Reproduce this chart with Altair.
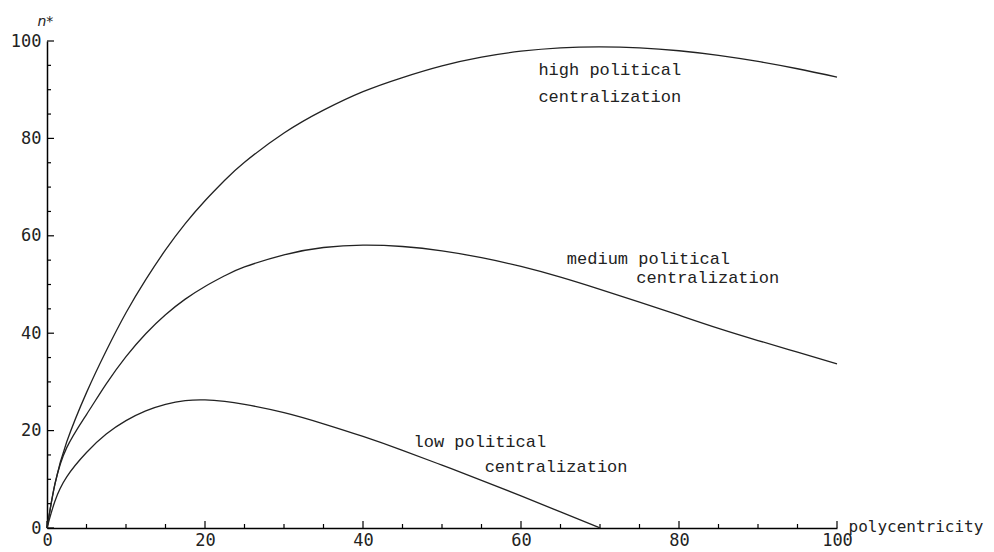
import altair as alt
import pandas as pd

# ---- data ----
x_vals = [0, 1, 2.5, 5, 7.5, 10, 12.5, 15, 17.5, 20, 22.5, 25, 30, 35, 40, 45, 50,
          55, 60, 65, 70, 75, 80, 85, 90, 95, 100]
high = [0, 9.0, 17.7, 27.8, 36.4, 44.2, 51.0, 57.1, 62.5, 67.2, 71.4, 75.1, 81.1, 85.8,
        89.6, 92.5, 94.9, 96.7, 97.9, 98.6, 98.8, 98.6, 98.0, 97.05, 95.8, 94.3, 92.6]
medium = [0, 9.0, 16.5, 23.3, 29.6, 35.2, 39.9, 43.8, 47.0, 49.6, 51.8, 53.6, 56.1, 57.6,
          58.1, 57.8, 56.9, 55.5, 53.7, 51.5, 49.0, 46.4, 43.7, 41.0, 38.5, 36.1, 33.7]
low_x = [0, 1, 2.5, 5, 7.5, 10, 12.5, 15, 17.5, 20, 22.5, 25, 30, 35, 40, 45, 50, 55, 60, 65, 70]
low = [0, 5.5, 10.5, 15.5, 19.3, 22.05, 24.05, 25.4, 26.15, 26.3, 26.0, 25.4, 23.7, 21.4,
       18.8, 15.95, 12.9, 9.8, 6.6, 3.3, 0]

label_text = ["high political", "centralization", "medium political", "centralization",
              "low political", "centralization"]
label_x = [62.2, 62.2, 65.8, 74.6, 46.4, 55.4]
label_y = [93.0, 87.5, 54.2, 50.4, 16.7, 11.6]

major_ticks = [0, 20, 40, 60, 80, 100]
minor_ticks = [5, 10, 15, 25, 30, 35, 45, 50, 55, 65, 70, 75, 85, 90, 95]

W, H = 790, 487
MONO = "DejaVu Sans Mono"
INK = "#222222"

rows = []
for xv, yv in zip(x_vals, high):
    rows.append({"x": xv, "y": yv, "series": "high"})
for xv, yv in zip(x_vals, medium):
    rows.append({"x": xv, "y": yv, "series": "medium"})
for xv, yv in zip(low_x, low):
    rows.append({"x": xv, "y": yv, "series": "low"})
curves = pd.DataFrame(rows)

labels = pd.DataFrame({"x": label_x, "y": label_y, "text": label_text})
majors = pd.DataFrame({"v": major_ticks})
minors = pd.DataFrame({"v": minor_ticks})

xscale = alt.Scale(domain=[0, 100], nice=False, zero=False)
yscale = alt.Scale(domain=[0, 100], nice=False, zero=False)

x_axis = alt.Axis(values=major_ticks, ticks=False, grid=False, domainColor="black",
                  domainWidth=1.5, labelFont=MONO, labelFontSize=17, labelColor=INK,
                  labelPadding=4, labelFlush=False, labelOverlap=False,
                  title="polycentricity", titleX=801, titleY=3.7, titleAlign="left",
                  titleBaseline="alphabetic", titleFont=MONO, titleFontSize=16,
                  titleFontWeight="normal", titleColor=INK)
y_axis = alt.Axis(values=major_ticks, ticks=False, grid=False, domainColor="black",
                  domainWidth=1.5, labelFont=MONO, labelFontSize=17, labelColor=INK,
                  labelPadding=6, labelFlush=False, labelOverlap=False,
                  title="n*", titleAngle=0, titleX=-10, titleY=-16, titleAlign="left",
                  titleBaseline="alphabetic", titleFont="DejaVu Sans", titleFontSize=14,
                  titleFontStyle="italic", titleFontWeight="normal", titleColor=INK)

lines = alt.Chart(curves).mark_line(interpolate="natural", strokeWidth=1.3, color=INK).encode(
    x=alt.X("x:Q", scale=xscale, axis=x_axis),
    y=alt.Y("y:Q", scale=yscale, axis=y_axis),
    detail="series:N",
    order="x:Q",
)

text = alt.Chart(labels).mark_text(align="left", baseline="alphabetic",
                                   font="Liberation Mono", fontSize=17, color=INK).encode(
    x=alt.X("x:Q", scale=xscale), y=alt.Y("y:Q", scale=yscale), text="text:N")

xmaj = alt.Chart(majors).mark_rule(color="black", strokeWidth=1.2).encode(
    x=alt.X("v:Q", scale=xscale), y=alt.value(H), y2=alt.value(H - 7))
xmin = alt.Chart(minors).mark_rule(color="black", strokeWidth=1.2).encode(
    x=alt.X("v:Q", scale=xscale), y=alt.value(H), y2=alt.value(H - 4))
ymaj = alt.Chart(majors).mark_rule(color="black", strokeWidth=1.2).encode(
    y=alt.Y("v:Q", scale=yscale), x=alt.value(0), x2=alt.value(7))
ymin = alt.Chart(minors).mark_rule(color="black", strokeWidth=1.2).encode(
    y=alt.Y("v:Q", scale=yscale), x=alt.value(0), x2=alt.value(4))

chart = alt.layer(xmin, xmaj, ymin, ymaj, lines, text).properties(
    width=W, height=H,
    autosize=alt.AutoSizeParams(type="none"),
    padding={"left": 39, "top": 33, "right": 149, "bottom": 25},
    background="white",
).configure_view(stroke=None)

chart.save("out.html", embed_options={"renderer": "svg", "actions": False})
